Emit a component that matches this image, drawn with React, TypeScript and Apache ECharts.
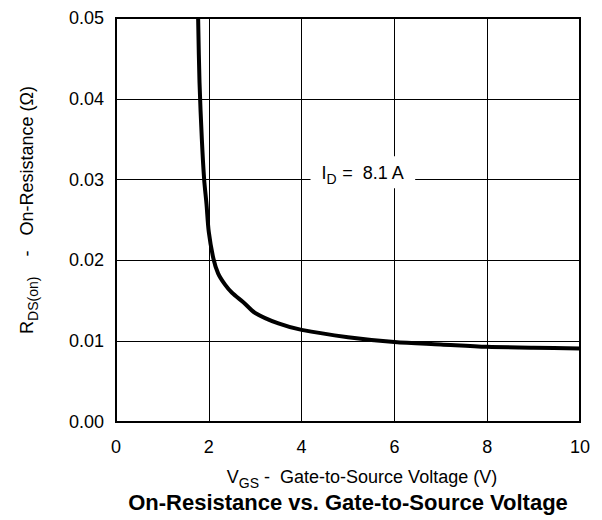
import React, { useEffect, useRef } from "react";
import * as echarts from "echarts";

const vgs = [1.77, 1.8, 1.85, 1.9, 1.95, 2.0, 2.1, 2.2, 2.35, 2.5, 2.75, 3.0, 3.5, 4, 5, 6, 7, 8, 9, 10];
const rdson = [0.05, 0.042, 0.035, 0.03, 0.027, 0.0235, 0.0202, 0.0184, 0.017, 0.016, 0.0148, 0.0135, 0.0122, 0.0114, 0.0105, 0.0099, 0.0096, 0.0093, 0.0092, 0.0091];
const xTicks = { min: 0, max: 10, interval: 2 };
const yTicks = { min: 0, max: 0.05, interval: 0.01 };
const labelPos = [5.32, 0.0309];

const FONT = "Liberation Sans, Arial, Helvetica, sans-serif";

const richStyles = {
  n: { fontSize: 18, color: "#000", fontFamily: FONT, verticalAlign: "top", lineHeight: 18 },
  s: { fontSize: 14, color: "#000", fontFamily: FONT, verticalAlign: "top", padding: [8, 0, 0, 0], lineHeight: 12 },
};

export default function App() {
  const ref = useRef<HTMLDivElement>(null);
  useEffect(() => {
    document.body.style.margin = "0";
    const chart = echarts.init(ref.current!, null, { renderer: "svg" });
    const data = vgs.map((x, i) => [x, rdson[i]]);
    chart.setOption({
      animation: false,
      backgroundColor: "#fff",
      textStyle: { fontFamily: FONT },
      grid: { left: 116, right: 22, top: 18, bottom: 98, show: true, borderColor: "#000", borderWidth: 2, backgroundColor: "transparent" },
      xAxis: {
        type: "value",
        min: xTicks.min,
        max: xTicks.max,
        interval: xTicks.interval,
        axisLine: { show: true, lineStyle: { color: "#000", width: 2 } },
        axisTick: { show: false },
        splitLine: { show: true, lineStyle: { color: "#000", width: 1 } },
        axisLabel: { color: "#000", fontSize: 18, margin: 16, fontFamily: FONT },
        name: "{n|V}{s|GS}{n| -  Gate-to-Source Voltage (V)}",
        nameLocation: "middle",
        nameGap: 46,
        nameTextStyle: { rich: richStyles, padding: [0, 0, 0, 28] },
      },
      yAxis: {
        type: "value",
        min: yTicks.min,
        max: yTicks.max,
        interval: yTicks.interval,
        axisLine: { show: true, lineStyle: { color: "#000", width: 2 } },
        axisTick: { show: false },
        splitLine: { show: true, lineStyle: { color: "#000", width: 1 } },
        axisLabel: { color: "#000", fontSize: 18, margin: 12, fontFamily: FONT, formatter: (v: number) => v.toFixed(2) },
        name: "{n|R}{s|DS(on)}{n|    -   On-Resistance (Ω)}",
        nameLocation: "middle",
        nameRotate: 90,
        nameGap: 80,
        nameTextStyle: { rich: richStyles, padding: [0, 0, 0, 20] },
      },
      series: [
        {
          type: "line",
          data,
          showSymbol: false,
          symbol: "none",
          smooth: 0.3,
          lineStyle: { color: "#000", width: 4 },
          markPoint: {
            symbol: "rect",
            symbolSize: 0,
            data: [
              {
                coord: labelPos,
                label: {
                  show: true,
                  position: "inside",
                  formatter: "{n|I}{s|D}{n| =  8.1 A}",
                  backgroundColor: "#fff",
                  padding: [8, 11, 6, 11],
                  rich: richStyles,
                },
              },
            ],
          },
        },
      ],
      graphic: [
        {
          type: "text",
          x: 348,
          y: 502,
          style: {
            text: "On-Resistance vs. Gate-to-Source Voltage",
            font: "bold 22px " + FONT,
            fill: "#000",
            align: "center",
            verticalAlign: "middle",
          },
        },
      ],
    });
    return () => chart.dispose();
  }, []);
  return <div ref={ref} style={{ width: 602, height: 520 }} />;
}
